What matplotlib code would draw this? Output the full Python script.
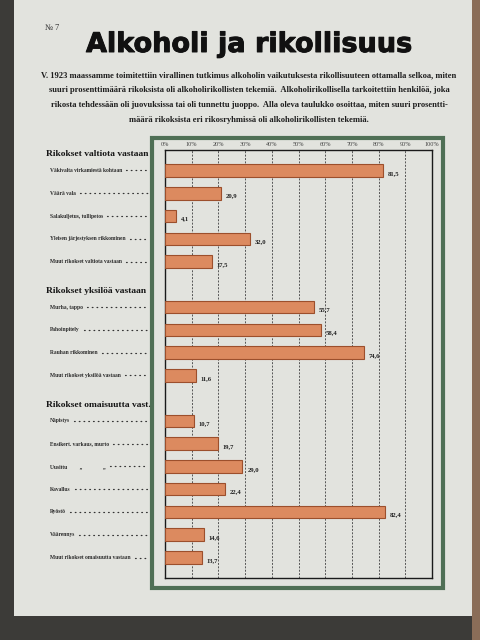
import matplotlib
matplotlib.use("Agg")
import matplotlib.pyplot as plt
import matplotlib.patheffects as pe
from matplotlib.patches import Rectangle
from matplotlib.transforms import blended_transform_factory

# poster data
group_titles = ["Rikokset valtiota vastaan", "Rikokset yksilöä vastaan", "Rikokset omaisuutta vast."]
state_labels = ["Väkivalta virkamiestä kohtaan", "Väärä vala", "Salakuljetus, tullipetos",
                "Yleisen järjestyksen rikkominen", "Muut rikokset valtiota vastaan"]
state_values = [81.5, 20.9, 4.1, 32.0, 17.5]
person_labels = ["Murha, tappo", "Pahoinpitely", "Rauhan rikkominen", "Muut rikokset yksilöä vastaan"]
person_values = [55.7, 58.4, 74.6, 11.6]
property_labels = ["Näpistys", "Ensikert. varkaus, murto", "Uusittu         „               „",
                   "Kavallus", "Ryöstö", "Väärennys", "Muut rikokset omaisuutta vastaan"]
property_values = [10.7, 19.7, 29.0, 22.4, 82.4, 14.6, 13.7]
tick_values = [0, 10, 20, 30, 40, 50, 60, 70, 80, 90, 100]

intro_lines = [
    "V. 1923 maassamme toimitettiin virallinen tutkimus alkoholin vaikutuksesta rikollisuuteen ottamalla selkoa, miten",
    "suuri prosenttimäärä rikoksista oli alkoholirikollisten tekemiä.  Alkoholirikollisella tarkoitettiin henkilöä, joka",
    "rikosta tehdessään oli juovuksissa tai oli tunnettu juoppo.  Alla oleva taulukko osoittaa, miten suuri prosentti-",
    "määrä rikoksista eri rikosryhmissä oli alkoholirikollisten tekemiä.",
]

paper = "#e2e3de"
bar_face = "#dc8a5f"
bar_edge = "#9c4f2c"
green = "#4f6f55"
serif = ["Liberation Serif", "DejaVu Serif"]

fig = plt.figure(figsize=(4.8, 6.4), dpi=100)
fig.patch.set_facecolor("#3c3b38")

def fx(px):
    return px / 480

def fy(py):
    return 1 - py / 640

# paper sheet and surroundings
fig.add_artist(Rectangle((fx(14), fy(616)), fx(458), 616 / 640, transform=fig.transFigure,
                         facecolor=paper, edgecolor="none", zorder=0))
fig.add_artist(Rectangle((fx(472), fy(640)), fx(8), 1, transform=fig.transFigure,
                         facecolor="#8a6d58", edgecolor="none", zorder=0))

# green outer frame
fig.add_artist(Rectangle((fx(152), fy(588)), fx(291), 450 / 640, transform=fig.transFigure,
                         facecolor="none", edgecolor=green, linewidth=3, zorder=1))

# title block
fig.text(fx(45), fy(30), "№ 7", fontsize=6, family=serif, color="#333333")
fig.text(fx(249), fy(45), "Alkoholi ja rikollisuus", fontsize=19.5, fontweight="heavy",
         family=["DejaVu Sans"], ha="center", va="center", color="#111111",
         path_effects=[pe.withStroke(linewidth=0.7, foreground="#111111")])
for i, line in enumerate(intro_lines):
    fig.text(fx(249), fy(75 + i * 15), line, fontsize=6.1, family=serif, fontweight="bold",
             ha="center", va="center", color="#1e1e1e")

# chart
ax = fig.add_axes([fx(165), fy(578), fx(432) - fx(165), (578 - 150) / 640])
ax.set_facecolor(paper)

groups = [(state_labels, state_values), (person_labels, person_values), (property_labels, property_values)]
trans = blended_transform_factory(fig.transFigure, ax.transData)
row_labels = []
row = 0
for g, (labels, values) in enumerate(groups):
    if g > 0:
        row += 1
    ax.text(fx(46), row - 0.72, group_titles[g], transform=trans, fontsize=6.8, family=serif,
            fontweight="bold", va="center", ha="left", color="#151515")
    for lab, val in zip(labels, values):
        ax.barh(row, val, height=0.55, color=bar_face, edgecolor=bar_edge, linewidth=0.8, zorder=3)
        ax.text(val + 1.8, row + 0.12, f"{val:.1f}".replace(".", ","), fontsize=4.8,
                family=serif, fontweight="bold", va="center", color="#222222")
        t = ax.text(fx(50), row, lab, transform=trans, fontsize=4.0,
                    family=serif, fontweight="bold", va="center", ha="left", color="#2a2a2a")
        row_labels.append((t, row))
        row += 1

ax.set_xlim(0, 100)
ax.set_ylim(row - 0.1, -0.9)
ax.set_yticks([])
ax.xaxis.tick_top()
ax.set_xticks(tick_values)
ax.set_xticklabels([f"{t}%" for t in tick_values], fontsize=4.5, family=serif)
ax.tick_params(axis="x", length=0, pad=2, colors="#444444")
for t in tick_values[1:-1]:
    ax.axvline(t, color="#555555", linestyle=(0, (2, 1.5)), linewidth=0.7, zorder=1)
for s in ax.spines.values():
    s.set_color("#1a1a1a")
    s.set_linewidth(1.0)

# dot leaders from each label to the frame
fig.canvas.draw()
renderer = fig.canvas.get_renderer()
for t, r in row_labels:
    x_end = t.get_window_extent(renderer).x1 / fig.bbox.width
    ax.plot([x_end + fx(4), fx(148)], [r, r], transform=trans, clip_on=False,
            color="#333333", linestyle=(0, (0.6, 3.2)), linewidth=0.9, dash_capstyle="round")

plt.savefig("out.png", dpi=100, facecolor=fig.get_facecolor())
